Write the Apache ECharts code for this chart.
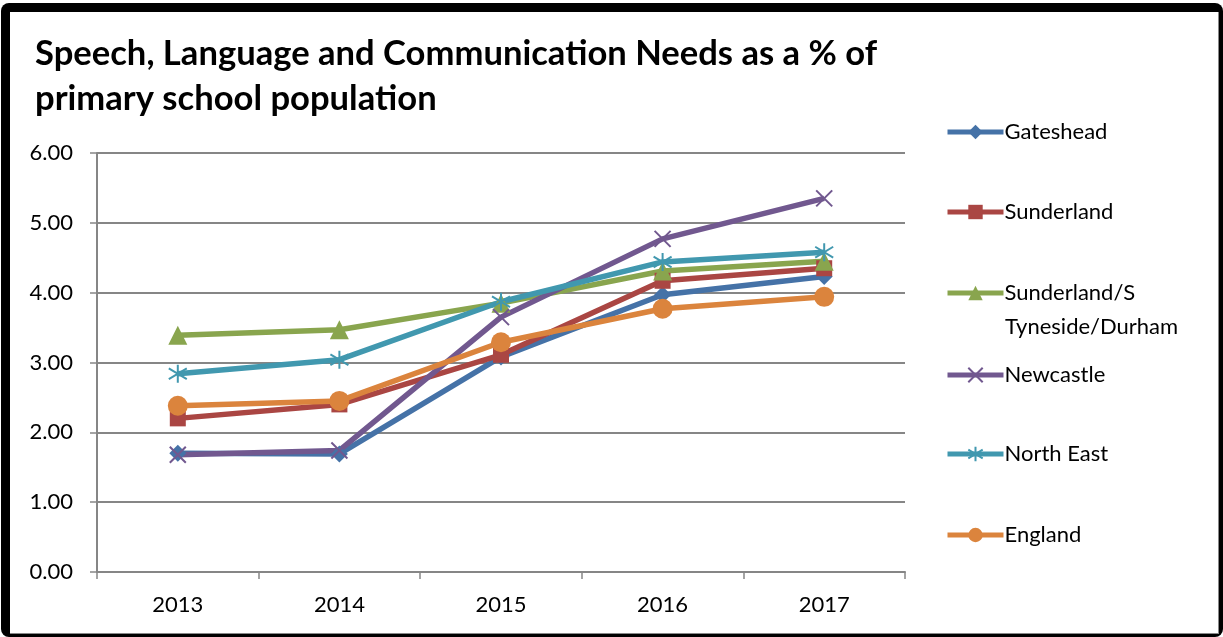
<!DOCTYPE html>
<html>
<head>
<meta charset="utf-8">
<script src="https://cdn.jsdelivr.net/npm/echarts@6/dist/echarts.min.js"></script>
<style>
  html, body { margin: 0; padding: 0; background: #fff; }
  #frame { position: absolute; left: 1px; top: 3px; width: 1222px; height: 634px; background: #000; border-radius: 8px; }
  #inner { position: absolute; left: 10px; top: 12px; width: 1208px; height: 621px; background: #fff; border-right: 1px solid #888; border-bottom: 1px solid #888; }
  #chart { position: absolute; left: 0; top: 0; width: 1223px; height: 637px; }
</style>
</head>
<body>
<div id="frame"></div>
<div id="inner"></div>
<div id="chart"></div>
<script>
const categories = ['2013', '2014', '2015', '2016', '2017'];
const gateshead = [1.70, 1.69, 3.08, 3.97, 4.23];
const sunderland = [2.20, 2.40, 3.11, 4.17, 4.35];
const sunderlandGroup = [3.39, 3.47, 3.85, 4.31, 4.45];
const newcastle = [1.68, 1.74, 3.65, 4.77, 5.35];
const northEast = [2.84, 3.04, 3.87, 4.44, 4.58];
const england = [2.38, 2.45, 3.29, 3.77, 3.94];
const seriesNames = ['Gateshead', 'Sunderland', 'Sunderland/S Tyneside/Durham', 'Newcastle', 'North East', 'England'];
const titleText = 'Speech, Language and Communication Needs as a % of\nprimary school population';

const FONT = 'Lato';
const colors = ['#4572A7', '#AA4643', '#89A54E', '#71588F', '#4198AF', '#DB843D'];
const symbols = [
  'diamond', 'rect', 'triangle',
  'path://M0,0L20,20M20,0L0,20',
  'path://M10,0L10,20M0,4L20,16M20,4L0,16',
  'circle'
];
const symbolSizes = [17, 16, 19, 16, 18, 20];
const dataSets = [gateshead, sunderland, sunderlandGroup, newcastle, northEast, england];
const legendCenters = [132, 212, 293, 375, 454, 535];

const chart = echarts.init(document.getElementById('chart'), null, { renderer: 'canvas' });

const series = seriesNames.map((name, i) => {
  const strokeOnly = i === 3 || i === 4;
  return {
    name: name,
    type: 'line',
    data: dataSets[i],
    symbol: symbols[i],
    symbolSize: symbolSizes[i],
    showAllSymbol: true,
    lineStyle: { color: colors[i], width: 5.5 },
    itemStyle: strokeOnly
      ? { color: colors[i], borderColor: colors[i], borderWidth: 2 }
      : { color: colors[i], borderWidth: 0 },
    emphasis: { disabled: true },
    animation: false
  };
});

const legends = seriesNames.map((name, i) => ({
  data: [name],
  orient: 'vertical',
  left: 945,
  top: legendCenters[i] - 12,
  padding: 0,
  itemWidth: 56,
  itemHeight: 18,
  itemGap: 0,
  selectedMode: false,
  lineStyle: { width: 5 },
  formatter: n => (i === 2 ? 'Sunderland/S' : n),
  textStyle: { fontFamily: FONT, fontSize: 22, color: '#000', lineHeight: 24, padding: [0, 0, 0, -4] }
}));

chart.setOption({
  animation: false,
  title: {
    text: titleText,
    left: 30,
    top: 26,
    textStyle: { fontFamily: FONT, fontWeight: 'bold', fontSize: 34.6, lineHeight: 45, color: '#000' }
  },
  legend: legends,
  graphic: [{
    type: 'text',
    left: 1005,
    top: 327 - 12,
    style: { text: 'Tyneside/Durham', font: '22px ' + FONT, fill: '#000', lineHeight: 24 }
  }],
  grid: { left: 97, right: 318, top: 153, bottom: 65, containLabel: false },
  xAxis: {
    type: 'category',
    data: categories,
    boundaryGap: true,
    axisLine: { lineStyle: { color: '#868686', width: 2 } },
    axisTick: { show: true, alignWithLabel: false, length: 7, lineStyle: { color: '#868686', width: 1.5 } },
    axisLabel: { fontFamily: FONT, fontSize: 22, color: '#000', margin: 22 },
    splitLine: { show: false }
  },
  yAxis: {
    type: 'value',
    min: 0, max: 6, interval: 1,
    axisLine: { show: true, lineStyle: { color: '#868686', width: 2 } },
    axisTick: { show: true, length: 7, lineStyle: { color: '#868686', width: 1.5 } },
    axisLabel: { fontFamily: FONT, fontSize: 22, color: '#000', margin: 24, formatter: v => v.toFixed(2) },
    splitLine: { show: true, lineStyle: { color: '#868686', width: 2 } }
  },
  series: series
});
</script>
</body>
</html>
